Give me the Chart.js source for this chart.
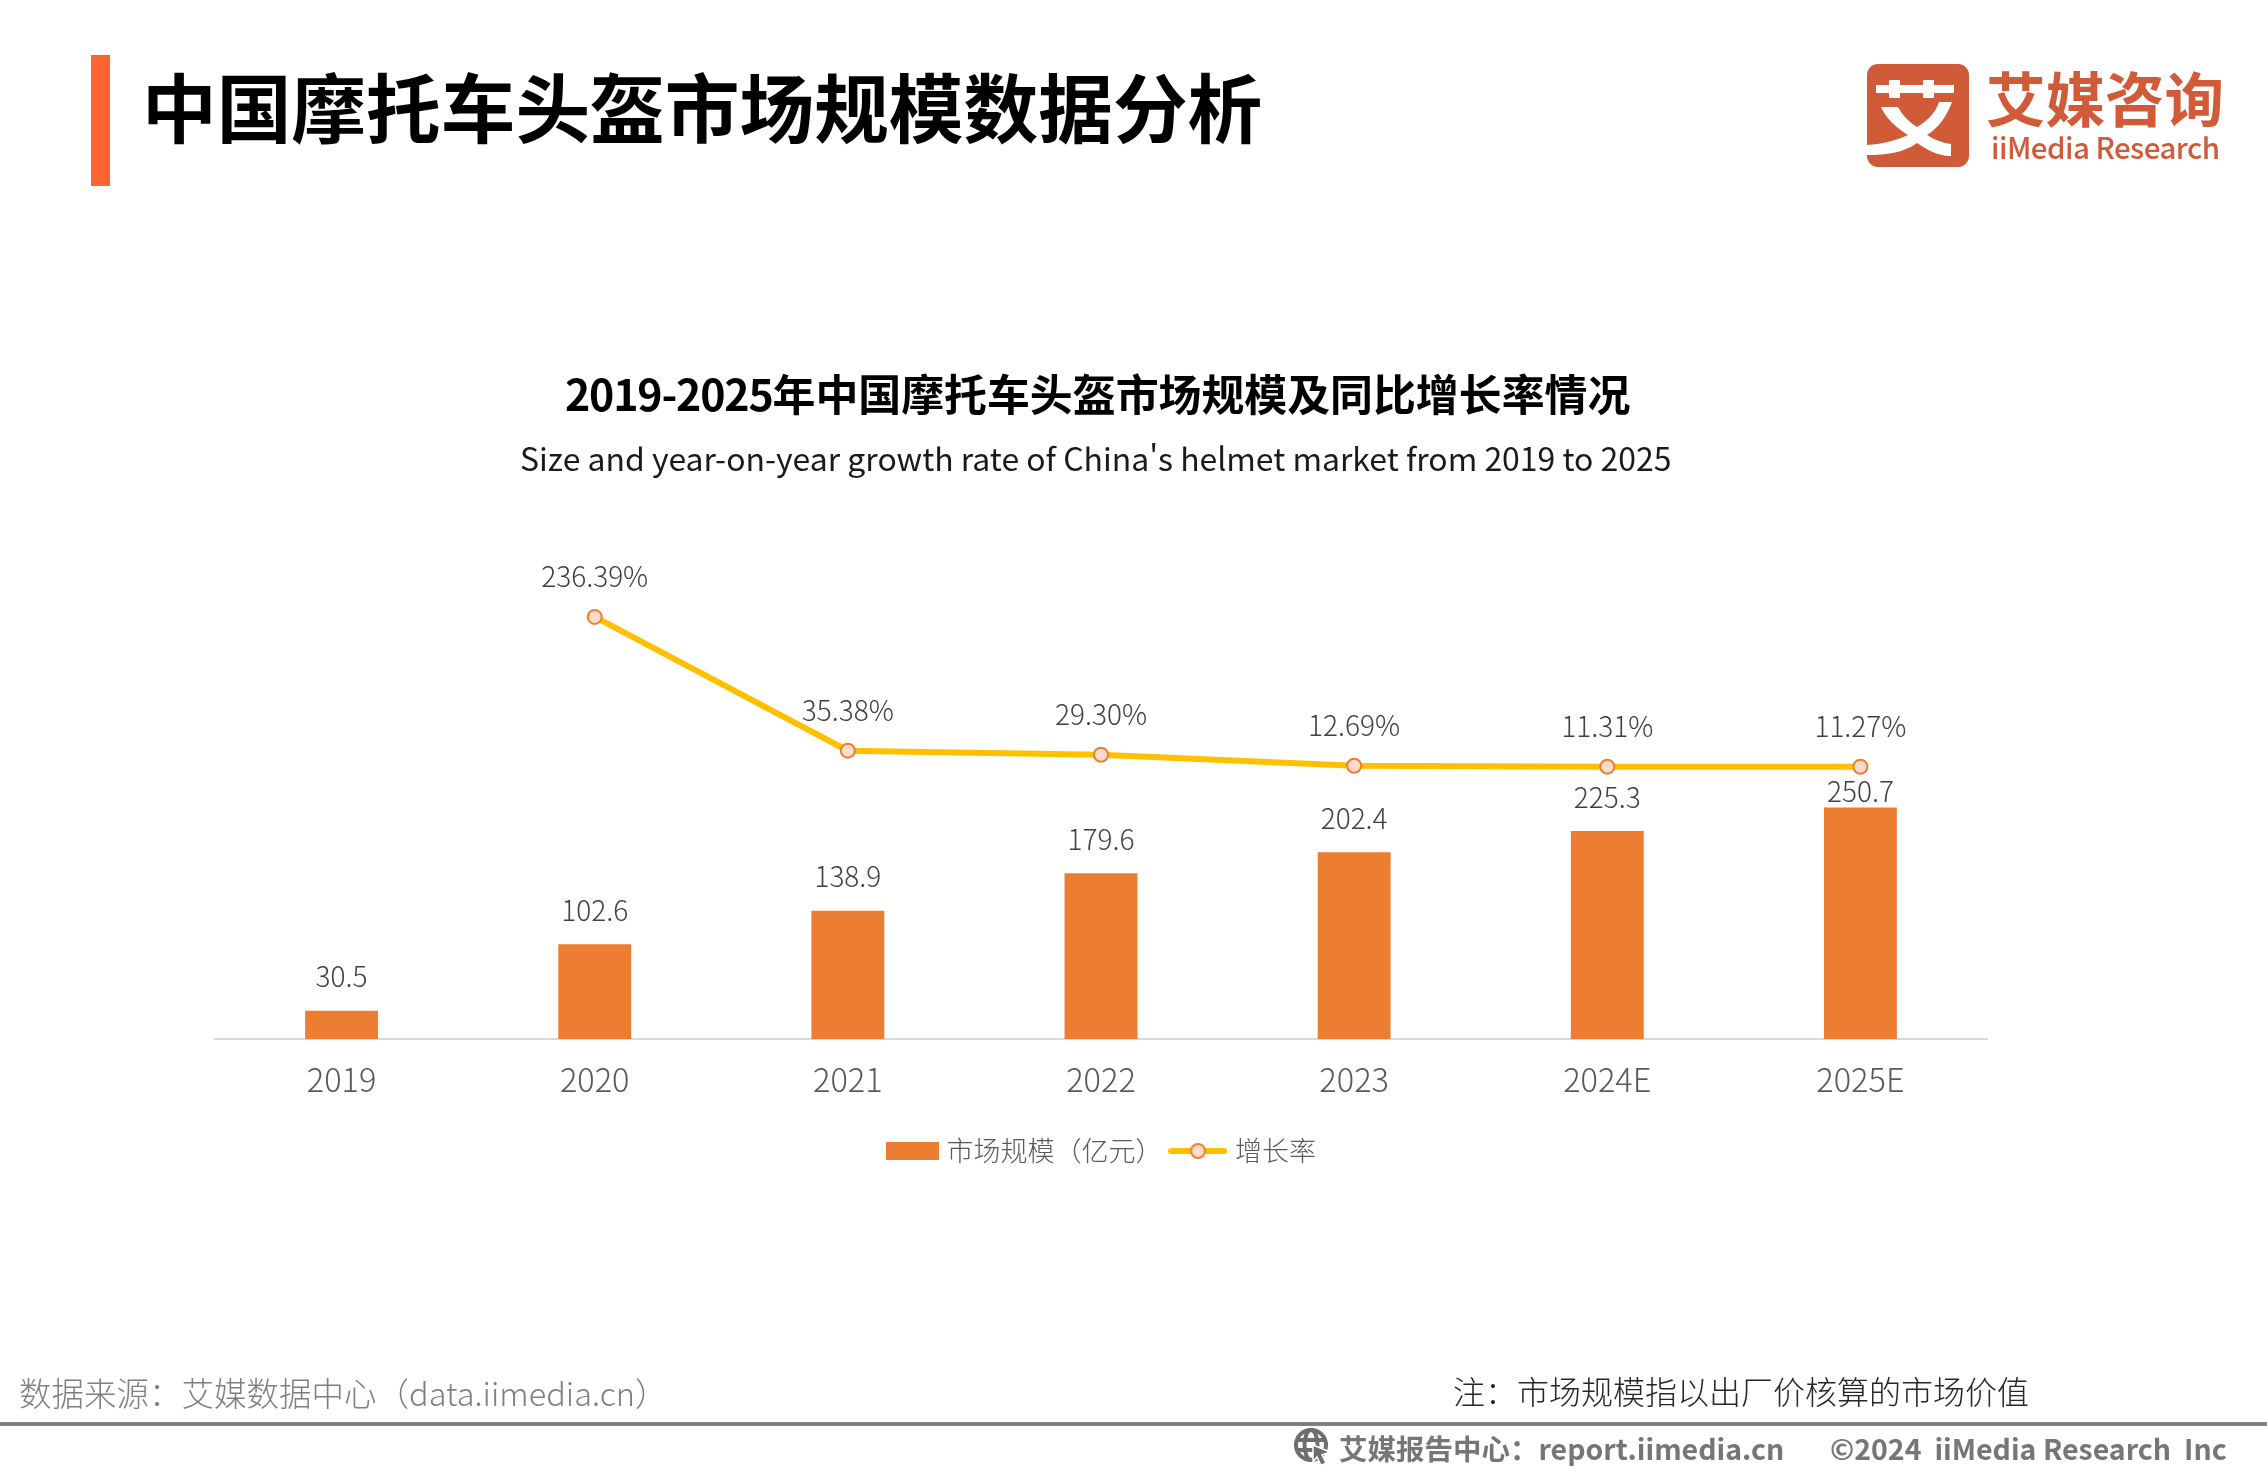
<!DOCTYPE html>
<html lang="zh">
<head>
<meta charset="utf-8">
<script src="https://cdn.jsdelivr.net/npm/chart.js@4"></script>
<style>
html,body{margin:0;padding:0;background:#fff;}
#page{position:relative;width:2267px;height:1474px;overflow:hidden;background:#fff;font-family:"Noto Sans CJK SC","Noto Sans",sans-serif;}
#c{position:absolute;left:0;top:0;}
.t{position:absolute;white-space:nowrap;line-height:1;transform:translateY(-50%);}
.b{position:absolute;}
</style>
</head>
<body>
<div id="page">
<canvas id="c" width="2267" height="1474"></canvas>
<div class="b" style="left:91px;top:55px;width:19px;height:131px;background:#FF6533"></div>
<div class="t" style="left:142px;top:105px;font-size:74.7px;font-weight:700;color:#000">中国摩托车头盔市场规模数据分析</div>
<svg class="b" style="left:1867px;top:64px" width="102" height="103" viewBox="0 0 102 103">
<rect width="102" height="103" rx="11" fill="#D15B38"/>
<path d="M9 21H22V16H33V21H56V16H67V21H87V29H67V34H56V29H33V34H22V29H9Z" fill="#fff"/>
<path d="M14 43H31C36 52 42 58 50 63C60 57 68 50 72 38H85C79 54 70 65 60 71C68 76 76 79 84 80V92C70 92 59 85 50 79C36 89 20 91 0 91V81C16 80 31 76 41 71C28 63 19 54 14 43Z" fill="#fff"/>
</svg>
<div class="t" style="left:1986px;top:97px;font-size:59.5px;font-weight:700;color:#D15B38">艾媒咨询</div>
<div class="t" style="left:1991px;top:147px;font-size:29.5px;font-weight:500;letter-spacing:-0.55px;color:#D15B38">iiMedia Research</div>
<div class="t" style="left:565px;top:391.5px;font-size:42.9px;font-weight:700;color:#000"><span style="letter-spacing:-1.2px">2019-2025</span>年中国摩托车头盔市场规模及同比增长率情况</div>
<div class="t" style="left:520px;top:458px;font-size:31.95px;color:#1a1a1a">Size and year-on-year growth rate of China's helmet market from 2019 to 2025</div>
<div class="t" style="left:19px;top:1392px;font-size:32.5px;font-weight:300;color:#7F7F7F">数据来源：艾媒数据中心（data.iimedia.cn）</div>
<div class="t" style="left:1453px;top:1389.5px;font-size:32px;font-weight:300;color:#262626">注：市场规模指以出厂价核算的市场价值</div>
<div class="b" style="left:0;top:1422px;width:2267px;height:4px;background:#808080"></div>
<svg class="b" style="left:1293px;top:1427px" width="38" height="39" viewBox="0 0 38 39" fill="none" stroke="#6E6E6E" stroke-width="4">
<circle cx="18" cy="18" r="15"/><ellipse cx="18" cy="18" rx="6.5" ry="15"/><path d="M3 13H33M3 23H33"/>
<path d="M20 18L37 25L29 28L33 36L28 38.5L24 30L20 35Z" fill="#6E6E6E" stroke="#fff" stroke-width="1.5"/>
</svg>
<div class="t" style="left:1339px;top:1447.5px;font-size:28.5px;font-weight:700;color:#767676">艾媒报告中心：report.iimedia.cn</div>
<div class="t" style="left:1830px;top:1447.5px;font-size:28.5px;font-weight:700;color:#767676;white-space:pre">©2024&nbsp;&nbsp;iiMedia Research&nbsp;&nbsp;Inc</div>
</div>
<script>
const categories = ["2019","2020","2021","2022","2023","2024E","2025E"];
const marketSize = [30.5,102.6,138.9,179.6,202.4,225.3,250.7];
const growthRate = [null,236.39,35.38,29.30,12.69,11.31,11.27];
const growthLabels = [null,"236.39%","35.38%","29.30%","12.69%","11.31%","11.27%"];
const seriesNames = ["市场规模（亿元）","增长率"];

const CN = '"Noto Sans CJK SC","Noto Sans",sans-serif';

function swatch(){
  const c=document.createElement('canvas');c.width=59;c.height=18;
  const x=c.getContext('2d');x.fillStyle='#ED7D31';x.fillRect(6,0,53,18);return c;
}
function lineKey(){
  const c=document.createElement('canvas');c.width=59;c.height=18;
  const x=c.getContext('2d');
  x.strokeStyle='#FFC000';x.lineWidth=6;x.lineCap='round';
  x.beginPath();x.moveTo(3,9);x.lineTo(56,9);x.stroke();
  x.beginPath();x.arc(29.5,9,7,0,Math.PI*2);x.fillStyle='#FBDCCB';x.fill();
  x.lineWidth=2;x.strokeStyle='#ED7D31';x.stroke();
  return c;
}

const valueLabels = {
  id:'valueLabels',
  afterDatasetsDraw(chart){
    const ctx=chart.ctx;
    ctx.save();
    ctx.font='300 28px '+CN;
    ctx.textAlign='center';ctx.textBaseline='middle';ctx.fillStyle='#404040';
    chart.getDatasetMeta(0).data.forEach((el,i)=>{
      const gap = i===marketSize.length-1 ? 16 : 34;
      ctx.fillText(String(marketSize[i].toFixed(1)),el.x,el.y-gap);
    });
    chart.getDatasetMeta(1).data.forEach((el,i)=>{
      if(growthLabels[i]) ctx.fillText(growthLabels[i],el.x,el.y-40.5);
    });
    ctx.restore();
  }
};

new Chart(document.getElementById('c'),{
  data:{
    labels:categories,
    datasets:[
      {type:'bar',label:seriesNames[0],data:marketSize,yAxisID:'y',backgroundColor:'#ED7D31',
       barPercentage:0.288,categoryPercentage:1,order:2},
      {type:'line',label:seriesNames[1],data:growthRate,yAxisID:'y2',borderColor:'#FFC000',borderWidth:6,
       tension:0,pointRadius:7,pointBorderWidth:2,pointBackgroundColor:'#FBDCCB',pointBorderColor:'#ED7D31',
       spanGaps:false,order:1}
    ]
  },
  options:{
    responsive:false,animation:false,devicePixelRatio:1,
    layout:{padding:{left:215,right:280,top:560,bottom:299.5}},
    scales:{
      x:{
        afterFit(s){s.height=86.5;},
        grid:{display:false,drawTicks:false},
        border:{display:true,color:'#D9D9D9',width:2},
        ticks:{color:'#595959',font:{family:CN,size:32.5,weight:'300'},padding:21,maxRotation:0}
      },
      y:{display:false,min:0,max:519},
      y2:{display:false,min:-398,max:322}
    },
    plugins:{
      tooltip:{enabled:false},
      legend:{
        position:'bottom',
        labels:{
          usePointStyle:true,pointStyleWidth:47,boxHeight:27,padding:12,
          color:'#595959',font:{family:CN,size:27,weight:'300'},
          generateLabels(){
            return [
              {text:seriesNames[0],pointStyle:swatch(),datasetIndex:0,fontColor:'#595959',lineWidth:0},
              {text:seriesNames[1],pointStyle:lineKey(),datasetIndex:1,fontColor:'#595959',lineWidth:0}
            ];
          }
        }
      }
    }
  },
  plugins:[valueLabels]
});
</script>
</body>
</html>
